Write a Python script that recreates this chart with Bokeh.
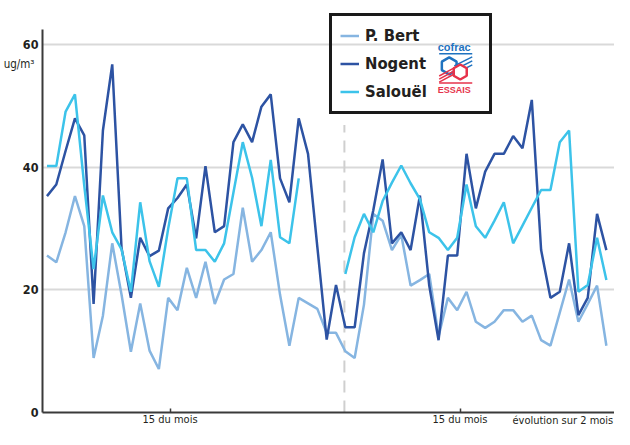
import math
import numpy as np
from bokeh.plotting import figure
from bokeh.models import Range1d, FixedTicker, Legend, LegendItem, LinearAxis
from bokeh.core.properties import value
from bokeh.embed import file_html
from bokeh.resources import INLINE

# ---------------- data ----------------
days = list(range(61))
p_bert = [25.6, 24.5, 29.4, 35.3, 30.4, 8.9, 15.8, 27.6, 19.2, 9.9,
          17.8, 10.1, 7.1, 18.7, 16.7, 23.6, 18.7, 24.6, 17.7, 21.7,
          22.6, 33.4, 24.6, 26.5, 29.4, 19.2, 10.9, 18.7, 17.8, 16.9,
          13.0, 13.0, 10.0, 8.9, 17.6, 32.4, 31.3, 26.5, 29.0, 20.7,
          21.6, 22.6, 12.4, 18.7, 16.7, 19.7, 14.8, 13.8, 14.8, 16.7,
          16.7, 14.8, 15.8, 11.8, 10.9, 16.3, 21.7, 14.8, 17.7, 20.7,
          10.9]
nogent = [35.3, 37.2, 42.7, 48.0, 45.2, 17.7, 46.0, 56.8, 26.8, 18.7,
          28.5, 25.5, 26.4, 33.3, 35.0, 37.2, 28.4, 40.2, 29.4, 30.4,
          44.1, 47.0, 44.1, 49.9, 51.9, 38.2, 34.3, 48.0, 42.2, 27.0,
          11.9, 20.8, 13.9, 13.9, 26.0, 33.0, 41.3, 27.6, 29.4, 26.5,
          35.4, 20.7, 11.8, 25.6, 25.6, 42.2, 33.3, 39.3, 42.2, 42.2,
          45.1, 43.1, 51.0, 26.5, 18.7, 19.7, 27.6, 15.9, 18.7, 32.4,
          26.5]
salouel = [40.2, 40.2, 49.1, 51.9, 37.0, 23.4, 35.4, 29.4, 26.6, 19.7,
           34.3, 24.7, 20.5, 30.0, 38.2, 38.2, 26.5, 26.5, 24.6, 27.6,
           35.9, 44.1, 38.3, 30.4, 41.2, 28.6, 27.6, 38.2, None, None,
           None, None, 22.6, 28.6, 32.4, 29.4, 34.5, 37.5, 40.3, 37.4,
           34.8, 29.4, 28.5, 26.5, 28.5, 37.2, 30.4, 28.5, 31.3, 34.3,
           27.6, 30.5, 33.4, 36.3, 36.3, 44.1, 46.0, 19.7, 20.8, 28.5,
           21.6]
series_names = ["P. Bert", "Nogent", "Salouël"]
y_ticks = [0, 20, 40, 60]
x_tick_positions = [13.2, 44.3]
x_tick_label = "15 du mois"
x_note = "évolution sur 2 mois"
x_note_pos = 55.6
unit_label = "ug/m³"
unit_pos = 56.9
month_boundary = 31.9

# ---------------- style ----------------
FONT = "DejaVu Sans Condensed"
TXT = "#231f20"
AXIS = "#3a3a3a"
GRID = "#d9d9d9"
COLORS = ["#86b5e1", "#2d53a3", "#3cc3ea"]

W, H = 614, 429
FL, FR, FT, FB = 43, 614, 5, 409
X0, X1 = -0.48, 60.87
Y0, Y1 = 0, 66.4

p = figure(width=W, height=H, output_backend="svg", toolbar_location=None,
           x_range=Range1d(X0, X1), y_range=Range1d(Y0, Y1),
           min_border_left=40, min_border_right=W - FR,
           min_border_top=FT, min_border_bottom=0)
p.outline_line_color = None
p.background_fill_color = "white"
p.border_fill_color = "white"

# grid
p.xgrid.visible = False
p.ygrid.ticker = FixedTicker(ticks=[t for t in y_ticks if t > 0])
p.ygrid.grid_line_color = GRID
p.ygrid.grid_line_width = 2

# y axis
ya = p.yaxis[0]
ya.ticker = FixedTicker(ticks=y_ticks)
ya.major_tick_line_color = None
ya.minor_tick_line_color = None
ya.major_tick_out = 0
ya.major_tick_in = 0
ya.axis_line_color = AXIS
ya.axis_line_width = 2
ya.bounds = (0, 62.5)
ya.major_label_text_font = FONT
ya.major_label_text_font_style = "bold"
ya.major_label_text_font_size = "12.5px"
ya.major_label_text_color = TXT
ya.major_label_standoff = 4

# unit text: extra left axis, pulled back next to the main axis
unit_axis = LinearAxis(ticker=FixedTicker(ticks=[unit_pos]),
                       major_label_overrides={unit_pos: unit_label},
                       axis_line_color=None, major_tick_line_color=None,
                       minor_tick_line_color=None, major_tick_out=0, major_tick_in=0,
                       major_label_standoff=-15, major_label_text_font=FONT,
                       major_label_text_font_size="11.5px", major_label_text_color=TXT)
p.add_layout(unit_axis, "left")

# x axis
xa = p.xaxis[0]
xa.ticker = FixedTicker(ticks=x_tick_positions)
xa.major_label_overrides = {t: x_tick_label for t in x_tick_positions}
xa.major_tick_in = 4
xa.major_tick_out = 0
xa.major_tick_line_color = AXIS
xa.major_tick_line_width = 1.5
xa.minor_tick_line_color = None
xa.axis_line_color = AXIS
xa.axis_line_width = 2
xa.major_label_text_font = FONT
xa.major_label_text_font_size = "11px"
xa.major_label_text_color = TXT
xa.major_label_standoff = 0

# right-hand note: extra bottom axis, pulled up onto the tick-label row
note_axis = LinearAxis(ticker=FixedTicker(ticks=[x_note_pos]),
                       major_label_overrides={x_note_pos: x_note},
                       axis_line_color=None, major_tick_line_color=None,
                       minor_tick_line_color=None, major_tick_out=0, major_tick_in=0,
                       major_label_standoff=-15, major_label_text_font=FONT,
                       major_label_text_font_size="11px", major_label_text_color=TXT)
p.add_layout(note_axis, "below")

# month boundary dashed line
p.segment(x0=[month_boundary], y0=[0], x1=[month_boundary], y1=[46.9],
          line_color="#cfcfcf", line_width=2, line_dash="12 8")

# series
renderers = []
for name, ys, col in zip(series_names, [p_bert, nogent, salouel], COLORS):
    arr = np.array([np.nan if v is None else v for v in ys], dtype=float)
    r = p.line(days, arr, line_color=col, line_width=2.5)
    renderers.append(r)

legend = Legend(items=[LegendItem(label=n, renderers=[r]) for n, r in zip(series_names, renderers)],
                location=(287, 298), orientation="vertical",
                label_text_font=FONT, label_text_font_style="bold",
                label_text_font_size="16.5px", label_text_color=TXT,
                glyph_width=19, glyph_height=23, label_height=23, label_width=116,
                label_standoff=6, spacing=5, padding=8, margin=0,
                border_line_color="#1a1a1a", border_line_width=3, border_line_alpha=1.0,
                background_fill_alpha=0)
p.add_layout(legend, "center")

# ---- cofrac logo (decoration, positioned in screen pixels) ----
def dx(xf):
    return X0 + (xf - FL) * (X1 - X0) / (FR - FL)

def dy(yf):
    return Y1 - (yf - FT) * (Y1 - Y0) / (FB - FT)

BLUE = "#1f73c0"
RED = "#e6334b"
LOGO_FONT = value("Liberation Sans")
p.text(x=[dx(454)], y=[dy(46)], text=["cofrac"], text_font=LOGO_FONT,
       text_font_style="bold", text_font_size="11px", text_color=BLUE,
       text_align="center", text_baseline="middle")
p.segment(x0=[dx(439)], y0=[dy(53)], x1=[dx(472)], y1=[dy(53)], line_color=BLUE, line_width=1.5)
p.segment(x0=[dx(454), dx(456), dx(458)], y0=[dy(65), dy(68), dy(71)],
          x1=[dx(472), dx(472), dx(472)], y1=[dy(56), dy(60), dy(64)],
          line_color=BLUE, line_width=1.5)
p.scatter(x=[dx(449)], y=[dy(65)], marker="hex", size=17, angle=math.pi / 6,
          fill_color=None, line_color=BLUE, line_width=2.5)
p.segment(x0=[dx(439), dx(439), dx(439)], y0=[dy(75), dy(78), dy(81)],
          x1=[dx(454), dx(454), dx(454)], y1=[dy(67), dy(70), dy(73)],
          line_color=RED, line_width=1.5)
p.scatter(x=[dx(460)], y=[dy(71)], marker="hex", size=15, angle=math.pi / 6,
          fill_color="white", line_color=RED, line_width=2.5)
p.segment(x0=[dx(439)], y0=[dy(82)], x1=[dx(472)], y1=[dy(82)], line_color=RED, line_width=1.5)
p.text(x=[dx(454)], y=[dy(88.5)], text=["ESSAIS"], text_font=LOGO_FONT,
       text_font_style="bold", text_font_size="9px", text_color=RED,
       text_align="center", text_baseline="middle")

open("out.html", "w").write(file_html(p, INLINE))
